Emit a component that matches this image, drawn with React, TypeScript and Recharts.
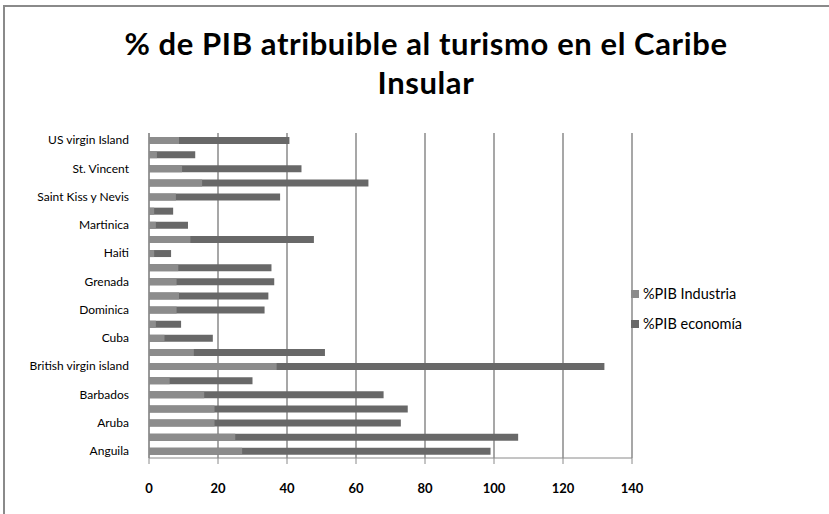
import { BarChart, Bar, XAxis, YAxis, CartesianGrid } from 'recharts';

const categories = [
  'Anguila', 'Antigua y Barbuda', 'Aruba', 'Bahamas', 'Barbados', 'Bermudas',
  'British virgin island', 'Cayman Islands', 'Cuba', 'Curazao', 'Dominica',
  'Rep. Dominicana', 'Grenada', 'Guadalupe', 'Haiti', 'Jamaica', 'Martinica',
  'Puerto Rico', 'Saint Kiss y Nevis', 'Santa Lucía', 'St. Vincent',
  'Trinidad y Tobago', 'US virgin Island',
];
const industria = [27, 25, 19, 19, 16, 6, 37, 13, 4.5, 2, 8, 8.7, 8, 8.5, 1.5, 12, 2, 1.5, 7.8, 15.4, 9.6, 2.3, 8.7];
const economia = [99, 107, 73, 75, 68, 30, 132, 51, 18.5, 9.3, 33.5, 34.6, 36.3, 35.5, 6.4, 47.8, 11.3, 7, 38, 63.6, 44.2, 13.4, 40.7];
const xTicks = [0, 20, 40, 60, 80, 100, 120, 140];

const rows = categories.map((name, i) => ({ name, industria: industria[i], economia: economia[i] }));

const LIGHT = '#8c8c8c';
const DARK = '#686868';
const FONT = 'Lato, "Open Sans", sans-serif';

export default function App() {
  return (
    <div style={{ position: 'absolute', left: 0, top: 0, width: 829, height: 514, background: '#fff', fontFamily: FONT }}>
      <div style={{ position: 'absolute', left: 3, top: 5, width: 826, height: 509, borderTop: '2px solid #8a8a8a', borderLeft: '2px solid #8a8a8a' }} />
      <div style={{ position: 'absolute', left: 0, top: 24, width: 852, textAlign: 'center', fontSize: 31, fontWeight: 700, letterSpacing: 0.6, lineHeight: '39px', color: '#000' }}>
        % de PIB atribuible al turismo en el Caribe<br />Insular
      </div>
      <BarChart
        width={829}
        height={514}
        layout="vertical"
        data={rows}
        margin={{ top: 133, right: 197, bottom: 26, left: 0 }}
        barGap={-7}
        style={{ position: 'absolute', left: 0, top: 0 }}
      >
        <CartesianGrid horizontal={false} stroke="#8a8a8a" strokeWidth={1.5} />
        <XAxis
          type="number"
          domain={[0, 140]}
          ticks={xTicks}
          tick={{ fontSize: 13, fontWeight: 700, fill: '#000', fontFamily: FONT }}
          stroke="#8a8a8a"
          tickMargin={20}
        />
        <YAxis
          type="category"
          dataKey="name"
          reversed
          width={149}
          interval={1}
          tickLine={false}
          tickMargin={14}
          stroke="#8a8a8a"
          tick={{ fontSize: 12, fill: '#000', fontFamily: FONT }}
        />
        <Bar dataKey="economia" name="%PIB economía" fill={DARK} barSize={7} isAnimationActive={false} />
        <Bar dataKey="industria" name="%PIB Industria" fill={LIGHT} barSize={7} isAnimationActive={false} />
      </BarChart>
      <div style={{ position: 'absolute', left: 631, top: 279, fontSize: 14.5, color: '#000', lineHeight: '30px' }}>
        <div style={{ display: 'flex', alignItems: 'center' }}>
          <span style={{ width: 8, height: 8, background: LIGHT, marginRight: 4 }} />%PIB Industria
        </div>
        <div style={{ display: 'flex', alignItems: 'center' }}>
          <span style={{ width: 8, height: 8, background: DARK, marginRight: 4 }} />%PIB economía
        </div>
      </div>
    </div>
  );
}
